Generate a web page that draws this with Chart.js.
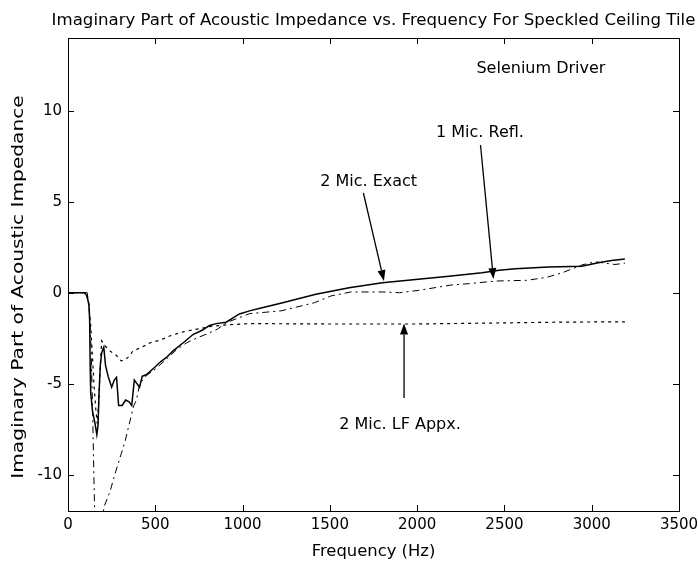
<!DOCTYPE html>
<html lang="en">
<head>
  <meta charset="UTF-8" />
  <title>Imaginary Part of Acoustic Impedance</title>
  <script src="https://cdn.jsdelivr.net/npm/chart.js"></script>
  <style>
    body { margin: 0; background: #fff; }
    #caja { width: 698px; height: 565px; }
  </style>
</head>
<body>
  <div id="caja"><canvas id="grafica" width="698" height="565"></canvas></div>

  <script>
    // 2 Mic. Exact (solid)
    const exactFreq = [0, 95, 110, 120, 124, 127, 130, 140, 155, 165, 172, 178, 185, 193, 205, 215, 230, 250, 265, 278, 290, 310, 330, 350, 365, 380, 395, 410, 425, 450, 497, 530, 564, 602, 660, 716, 771, 811, 849, 906, 982, 1040, 1100, 1230, 1420, 1610, 1801, 1991, 2182, 2372, 2470, 2562, 2753, 2943, 3038, 3114, 3190];
    const exactZ    = [0, 0, -0.2, -0.7, -1.5, -4, -5.5, -6.5, -7.2, -7.8, -7.3, -5.5, -4, -3.3, -3.0, -4.0, -4.6, -5.2, -4.8, -4.65, -6.2, -6.2, -5.9, -6.0, -6.2, -4.8, -5.0, -5.2, -4.6, -4.5, -4.1, -3.8, -3.56, -3.2, -2.75, -2.3, -2.05, -1.8, -1.7, -1.62, -1.17, -1.0, -0.85, -0.55, -0.09, 0.27, 0.55, 0.73, 0.91, 1.1, 1.23, 1.32, 1.41, 1.46, 1.64, 1.77, 1.85];

    // 1 Mic. Refl. (dash-dot)
    const reflFreq = [0, 110, 122, 132, 140, 148, 160, 185, 205, 240, 268, 297, 326, 350, 377, 392, 411, 450, 500, 564, 620, 680, 735, 800, 857, 906, 960, 1040, 1220, 1412, 1506, 1620, 1800, 1900, 2010, 2193, 2300, 2448, 2627, 2741, 2833, 2942, 3020, 3133, 3190];
    const reflZ    = [0, 0, -0.8, -3, -6, -10, -15, -15, -11.8, -10.95, -10.0, -9.1, -8.2, -7.25, -6.2, -5.9, -5.0, -4.55, -4.2, -3.65, -3.15, -2.75, -2.5, -2.25, -2.0, -1.65, -1.45, -1.15, -1.0, -0.55, -0.18, 0.04, 0.04, 0.0, 0.13, 0.42, 0.5, 0.64, 0.68, 0.84, 1.1, 1.52, 1.7, 1.55, 1.62];

    // 2 Mic. LF Appx. (dotted)
    const lfFreq = [0, 100, 118, 130, 140, 150, 160, 168, 176, 185, 193, 210, 240, 278, 305, 326, 350, 372, 423, 470, 530, 590, 660, 740, 820, 906, 1040, 1500, 2000, 2500, 2800, 3190];
    const lfZ    = [0, 0, -0.5, -1.8, -3.5, -5.2, -6.5, -7.2, -6, -4, -2.65, -2.9, -3.2, -3.45, -3.75, -3.7, -3.5, -3.2, -3.0, -2.75, -2.6, -2.35, -2.15, -2.0, -1.85, -1.77, -1.7, -1.72, -1.72, -1.66, -1.62, -1.6];

    const xTicks = [0, 500, 1000, 1500, 2000, 2500, 3000, 3500];
    const yTicks = [-10, -5, 0, 5, 10];

    const titulo = "Imaginary Part of Acoustic Impedance vs. Frequency For Speckled Ceiling Tile";
    const tituloX = "Frequency (Hz)";
    const tituloY = "Imaginary Part of Acoustic Impedance";

    // textos y flechas en unidades de datos
    const notas = [
      { texto: "Selenium Driver", f: 2709, z: 12.08 },
      { texto: "1 Mic. Refl.", f: 2360, z: 8.56 },
      { texto: "2 Mic. Exact", f: 1722, z: 5.84 },
      { texto: "2 Mic. LF Appx.", f: 1902, z: -7.49 }
    ];
    const flechas = [
      [2363, 8.12, 2437, 0.75],
      [1692, 5.48, 1810, 0.64],
      [1925, -5.79, 1925, -1.69]
    ];

    const fuente = '"DejaVu Sans", sans-serif';
    const pares = (fs, zs) => fs.map((f, i) => ({ x: f, y: zs[i] }));

    const marco = {
      id: 'marco',
      afterDraw(chart) {
        const { ctx, chartArea: a, scales: { x, y } } = chart;
        ctx.save();
        ctx.strokeStyle = '#000';
        ctx.fillStyle = '#000';
        ctx.lineWidth = 1;
        ctx.strokeRect(a.left + 0.5, a.top + 0.5, a.right - a.left, a.bottom - a.top);

        // marcas hacia dentro en los cuatro lados
        ctx.beginPath();
        xTicks.forEach(v => {
          const px = Math.round(x.getPixelForValue(v)) + 0.5;
          ctx.moveTo(px, a.bottom); ctx.lineTo(px, a.bottom - 6);
          ctx.moveTo(px, a.top); ctx.lineTo(px, a.top + 6);
        });
        yTicks.forEach(v => {
          const py = Math.round(y.getPixelForValue(v)) + 0.5;
          ctx.moveTo(a.left, py); ctx.lineTo(a.left + 6, py);
          ctx.moveTo(a.right, py); ctx.lineTo(a.right - 6, py);
        });
        ctx.stroke();

        ctx.textAlign = 'center';
        ctx.textBaseline = 'alphabetic';
        const cx = (a.left + a.right) / 2;
        ctx.font = '16.6px ' + fuente;
        ctx.fillText(titulo, cx, 25);
        ctx.font = '16.4px ' + fuente;
        ctx.fillText(tituloX, cx, 556);

        ctx.save();
        ctx.translate(23, 287);
        ctx.rotate(-Math.PI / 2);
        ctx.scale(1.26, 1);
        ctx.font = '16px ' + fuente;
        ctx.fillText(tituloY, 0, 0);
        ctx.restore();

        ctx.font = '16px ' + fuente;
        notas.forEach(n => ctx.fillText(n.texto, x.getPixelForValue(n.f), y.getPixelForValue(n.z)));

        flechas.forEach(([f1, z1, f2, z2]) => {
          const x1 = x.getPixelForValue(f1), y1 = y.getPixelForValue(z1);
          const x2 = x.getPixelForValue(f2), y2 = y.getPixelForValue(z2);
          const ang = Math.atan2(y2 - y1, x2 - x1);
          const largo = 11, ancho = 4;
          const bx = x2 - largo * Math.cos(ang), by = y2 - largo * Math.sin(ang);
          ctx.beginPath();
          ctx.lineWidth = 1.3;
          ctx.moveTo(x1, y1); ctx.lineTo(bx, by);
          ctx.stroke();
          ctx.beginPath();
          ctx.moveTo(x2, y2);
          ctx.lineTo(bx + ancho * Math.sin(ang), by - ancho * Math.cos(ang));
          ctx.lineTo(bx - ancho * Math.sin(ang), by + ancho * Math.cos(ang));
          ctx.closePath();
          ctx.fill();
        });
        ctx.restore();
      }
    };

    new Chart(document.getElementById("grafica"), {
      type: 'line',
      data: {
        datasets: [
          { label: "2 Mic. Exact", data: pares(exactFreq, exactZ), borderColor: "#000", borderWidth: 1.5 },
          { label: "1 Mic. Refl.", data: pares(reflFreq, reflZ), borderColor: "#000", borderWidth: 1, borderDash: [7, 4, 2, 4] },
          { label: "2 Mic. LF Appx.", data: pares(lfFreq, lfZ), borderColor: "#000", borderWidth: 1.2, borderDash: [3, 4] }
        ]
      },
      options: {
        responsive: false,
        animation: false,
        layout: { padding: { top: 38, right: 19, left: 0, bottom: 0 } },
        elements: { point: { radius: 0 }, line: { tension: 0, fill: false } },
        plugins: { legend: { display: false }, tooltip: { enabled: false } },
        scales: {
          x: {
            type: 'linear', min: 0, max: 3500,
            afterBuildTicks: s => { s.ticks = xTicks.map(v => ({ value: v })); },
            afterFit: s => { s.height = 54; s.paddingLeft = 0; s.paddingRight = 0; },
            grid: { display: false, drawTicks: false },
            border: { display: false },
            ticks: { color: '#000', font: { family: fuente, size: 15 }, padding: 5, maxRotation: 0, callback: v => String(v) }
          },
          y: {
            type: 'linear', min: -12, max: 14,
            afterBuildTicks: s => { s.ticks = yTicks.map(v => ({ value: v })); },
            afterFit: s => { s.width = 68; s.paddingTop = 0; s.paddingBottom = 0; },
            grid: { display: false, drawTicks: false },
            border: { display: false },
            ticks: { color: '#000', font: { family: fuente, size: 15 }, padding: 6, callback: v => String(v) }
          }
        }
      },
      plugins: [marco]
    });
  </script>
</body>
</html>
